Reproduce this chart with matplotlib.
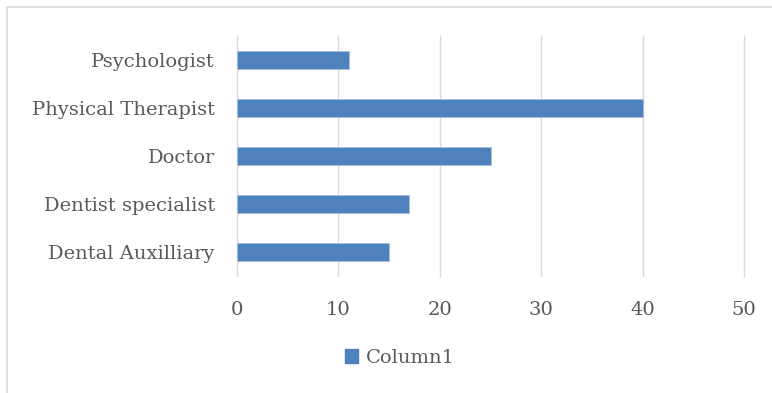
import matplotlib.pyplot as plt
from matplotlib.patches import Rectangle, Patch

categories = ["Dental Auxilliary", "Dentist specialist", "Doctor", "Physical Therapist", "Psychologist"]
values = [15, 17, 25, 40, 11]
series_name = "Column1"
xticks = [0, 10, 20, 30, 40, 50]

plt.rcParams['font.family'] = ['DejaVu Serif']
text_color = '#595959'
bar_color = '#4F81BD'

fig = plt.figure(figsize=(7.72, 3.93), dpi=100)
ax = fig.add_axes([237 / 772, 1 - 276 / 393, (744 - 237) / 772, (276 - 36) / 393])

# chart frame (light grey border like an Excel chart area)
fig.patches.append(Rectangle((7 / 772, -0.1), 1.2, 1 - 7 / 393 + 0.1,
                             transform=fig.transFigure, fill=False,
                             edgecolor='#D9D9D9', linewidth=1.2))

ax.barh(range(len(categories)), values, height=0.37, color=bar_color,
        edgecolor='#A7BFDE', linewidth=0.6, zorder=3)

ax.set_xlim(0, 50)
ax.set_ylim(-0.5, len(categories) - 0.5)
ax.set_xticks(xticks)
ax.set_yticks(range(len(categories)))
ax.set_yticklabels(categories)
ax.grid(axis='x', color='#D9D9D9', linewidth=1, zorder=0)
for gl in ax.get_xgridlines():
    gl.set_clip_on(False)
ax.set_axisbelow(True)
for s in ax.spines.values():
    s.set_visible(False)
ax.tick_params(axis='both', length=0, colors=text_color, labelsize=14)
ax.tick_params(axis='y', pad=16)
ax.tick_params(axis='x', pad=18)

fig.legend(handles=[Patch(color=bar_color, label=series_name)],
           loc='center', bbox_to_anchor=(400 / 772, 1 - 358 / 393),
           frameon=False, fontsize=14, labelcolor=text_color,
           handlelength=0.7, handleheight=0.7, handletextpad=0.4)

fig.savefig('out.png', dpi=100)
